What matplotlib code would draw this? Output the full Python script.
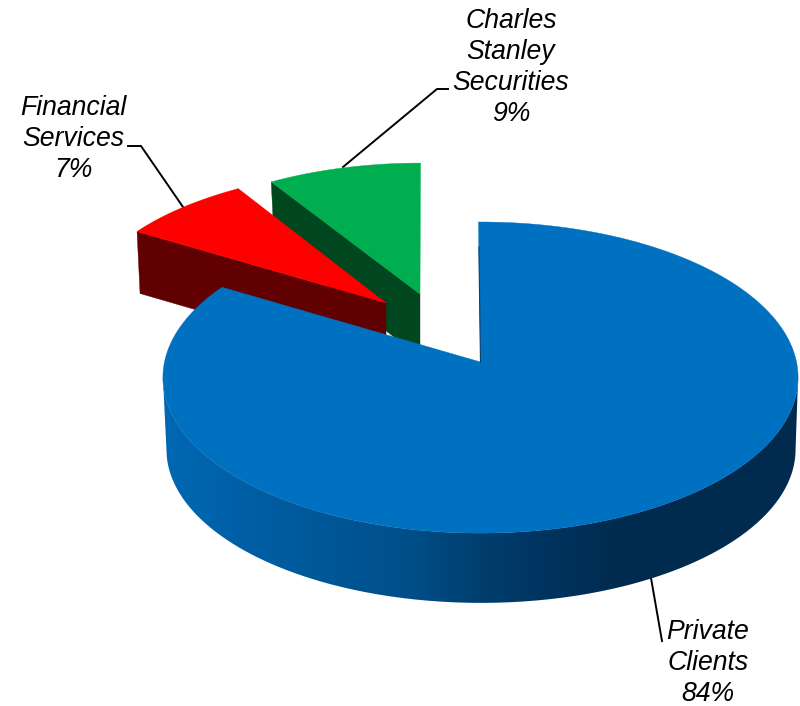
import numpy as np
import matplotlib
matplotlib.use("Agg")
import matplotlib.pyplot as plt
from matplotlib.patches import Polygon, PathPatch
from matplotlib.path import Path
from matplotlib.colors import LinearSegmentedColormap

# Business-division split of revenue, percent
divisions = ["Private\nClients", "Financial\nServices", "Charles\nStanley\nSecurities"]
shares = [84, 7, 9]

plt.rcParams["font.family"] = ["Liberation Sans", "DejaVu Sans"]

fig = plt.figure(figsize=(8.0, 7.06), dpi=100)
ax = fig.add_axes([0, 0, 1, 1])

# Slice angles run clockwise from 12 o'clock
edges = np.concatenate([[0], np.cumsum(shares)]) * 3.6


def arc(theta0, theta1, disc, n=200):
    """Points of a disc rim seen in perspective, in canvas pixels."""
    deg = np.linspace(theta0, theta1, n)
    # Off-axis viewing slightly displaces angles around the rim
    t = np.radians(deg + disc.get("turn", 0.0) + disc.get("warp", 0.0) * np.sin(np.radians(deg)))
    w = 1 + disc["k"] * np.cos(t)
    return np.column_stack([disc["x"] + disc["R"] * np.sin(t) / w,
                            disc["y"] - disc["H"] * np.cos(t) / w])


def silhouette_span(rim):
    """Slice of a rim between its rightmost and leftmost points."""
    return rim[np.argmax(rim[:, 0]):np.argmin(rim[:, 0]) + 1]


# Projection of each exploded slice: rim ellipse, apex, and extrusion depth
blue = {"x": 480.5, "y": 362, "R": 316, "H": 154, "k": 0.1, "turn": -0.4, "warp": 1.55}
blue_low = {"x": 481, "y": 434, "R": 313, "H": 152, "k": 0.1}
red = {"x": 414, "y": 306, "R": 328, "H": 139, "k": 0.0}
green = {"x": 420.5, "y": 294, "R": 302, "H": 144, "k": 0.1}
red_apex, red_depth = np.array([386.0, 303.0]), 62
green_apex, green_depth = np.array([420.0, 294.0]), 63


def cut_face(corner, apex, depth, color, inset=3, zorder=1):
    pts = [corner, apex, apex + [0, depth], corner + [inset, depth]]
    ax.add_patch(Polygon(pts, closed=True, fc=color, ec=color, lw=0.3, zorder=zorder))


def top_face(rim, apex, color, zorder):
    pts = np.vstack([rim, apex])
    ax.add_patch(Polygon(pts, closed=True, fc=color, ec=color, lw=0.3, zorder=zorder))


# Charles Stanley Securities wedge
g_rim = arc(edges[2], edges[3], green)
cut_face(g_rim[0], green_apex, green_depth, "#00461F", zorder=1)
top_face(g_rim, green_apex, "#00AE4F", zorder=2)

# Financial Services wedge
r_rim = arc(edges[1], edges[2], red)
cut_face(r_rim[0], red_apex, red_depth, "#600000", zorder=3)
top_face(r_rim, red_apex, "#FF0000", zorder=4)

# Private Clients: shaded rim wall clipped to its outline
upper = silhouette_span(arc(70, 292, blue, 400))
lower = silhouette_span(arc(70, 292, blue_low, 400))
outline = np.vstack([upper, lower[::-1], upper[:1]])
shade = LinearSegmentedColormap.from_list(
    "rim",
    [(0.00, "#0068B4"), (0.21, "#005A9C"), (0.40, "#004E88"), (0.50, "#003E6E"),
     (0.60, "#003460"), (0.72, "#002B4E"), (1.00, "#002B4E")])
wall = ax.imshow(np.linspace(0, 1, 640)[None, :], cmap=shade, aspect="auto",
                 extent=(160, 800, 620, 360), zorder=5, interpolation="bilinear")
clip = PathPatch(Path(outline), transform=ax.transData, fc="none", ec="none")
ax.add_patch(clip)
wall.set_clip_path(clip)

b_rim = arc(edges[0], edges[1], blue, 600)
apex_blue = np.array([blue["x"], blue["y"]], dtype=float)
top_face(b_rim, apex_blue, "#0070C0", zorder=6)
ax.plot([b_rim[0, 0] + 0.4, apex_blue[0]], [b_rim[0, 1] + 25, apex_blue[1]],
        color="#0B3F6E", lw=0.8, zorder=7)

# Leader lines
leaders = [
    ([128, 141, 183], [146, 146, 207]),
    ([448, 437, 343], [89, 89, 167]),
    ([651, 662], [578, 641]),
]
for xs, ys in leaders:
    ax.plot(xs, ys, color="black", lw=1.4, solid_joinstyle="miter", zorder=0)

# Labels
anchors = [(708, 663), (73, 139), (511, 67.5)]
for name, share, (tx, ty) in zip(divisions, shares, anchors):
    ax.text(tx, ty, f"{name}\n{share}%", ha="center", va="center", ma="center",
            fontsize=19.2, style="italic", color="black", linespacing=1.24, zorder=8)

ax.set_xlim(0, 800)
ax.set_ylim(706, 0)
ax.axis("off")
fig.savefig("out.png", dpi=100, facecolor="white")
